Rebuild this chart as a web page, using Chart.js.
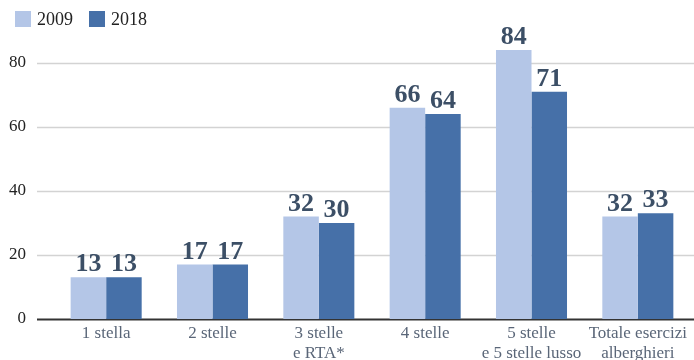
<!DOCTYPE html>
<html>
<head>
<meta charset="utf-8">
<script src="https://cdn.jsdelivr.net/npm/chart.js@4/dist/chart.umd.min.js"></script>
<style>
  html, body { margin: 0; padding: 0; background: #fff; }
  #wrap { width: 694px; height: 360px; position: relative; }
</style>
</head>
<body>
<div id="wrap"><canvas id="barChart"></canvas></div>
<script>
const categories = ['1 stella', '2 stelle', ['3 stelle', 'e RTA*'], '4 stelle', ['5 stelle', 'e 5 stelle lusso'], ['Totale esercizi', 'alberghieri']];
const values2009 = [13, 17, 32, 66, 84, 32];
const values2018 = [13, 17, 30, 64, 71, 33];
const yTicks = [0, 20, 40, 60, 80];

const serif = "'Liberation Serif', 'DejaVu Serif', serif";

// gridlines + base line, drawn from the y scale but stretched left past the plot
const gridPlugin = {
    id: 'gridLines',
    beforeDatasetsDraw(chart) {
        const ctx = chart.ctx;
        const y = chart.scales.y;
        ctx.save();
        yTicks.forEach(v => {
            const py = Math.round(y.getPixelForValue(v)) + 0.5;
            ctx.beginPath();
            ctx.strokeStyle = v === 0 ? '#333333' : '#d3d3d3';
            ctx.lineWidth = v === 0 ? 2 : 1.5;
            ctx.moveTo(37, py);
            ctx.lineTo(chart.width, py);
            ctx.stroke();
        });
        ctx.restore();
    }
};

const labelPlugin = {
    id: 'valueLabels',
    afterDatasetsDraw(chart) {
        const ctx = chart.ctx;
        ctx.save();
        ctx.font = 'bold 26px ' + serif;
        ctx.fillStyle = '#3c4f66';
        ctx.textAlign = 'center';
        ctx.textBaseline = 'alphabetic';
        chart.data.datasets.forEach((ds, i) => {
            chart.getDatasetMeta(i).data.forEach((bar, j) => {
                ctx.fillText(String(ds.data[j]), bar.x, bar.y - 6);
            });
        });
        ctx.restore();
    }
};

const legendPlugin = {
    id: 'topLegend',
    afterDraw(chart) {
        const ctx = chart.ctx;
        ctx.save();
        ctx.font = '18px ' + serif;
        ctx.textBaseline = 'middle';
        let x = 15;
        chart.data.datasets.forEach(ds => {
            ctx.fillStyle = ds.backgroundColor;
            ctx.fillRect(x, 11, 16, 16);
            ctx.fillStyle = '#222222';
            ctx.fillText(ds.label, x + 22, 20);
            x += 22 + ctx.measureText(ds.label).width + 16;
        });
        ctx.restore();
    }
};

const ctx = document.getElementById('barChart').getContext('2d');
const myChart = new Chart(ctx, {
    type: 'bar',
    data: {
        labels: categories,
        datasets: [{
            label: '2009',
            data: values2009,
            backgroundColor: '#b4c6e7',
            borderWidth: 0
        }, {
            label: '2018',
            data: values2018,
            backgroundColor: '#4670a8',
            borderWidth: 0
        }]
    },
    options: {
        responsive: true,
        maintainAspectRatio: false,
        animation: false,
        layout: { padding: { top: 33, right: 3, left: 0, bottom: 0 } },
        categoryPercentage: 0.668,
        barPercentage: 1,
        plugins: {
            legend: { display: false },
            tooltip: { enabled: false }
        },
        scales: {
            x: {
                grid: { display: false, drawTicks: false },
                border: { display: false },
                ticks: {
                    color: '#5a6678',
                    font: { family: serif, size: 17 },
                    padding: 4,
                    maxRotation: 0,
                    autoSkip: false
                },
                afterFit(scale) { scale.height = 41; }
            },
            y: {
                min: 0,
                max: 88,
                grid: { display: false, drawTicks: false },
                border: { display: false },
                afterBuildTicks(scale) { scale.ticks = yTicks.map(v => ({ value: v })); },
                ticks: {
                    color: '#222222',
                    font: { family: serif, size: 17 },
                    padding: 27
                },
                afterFit(scale) { scale.width = 53; }
            }
        }
    },
    plugins: [gridPlugin, labelPlugin, legendPlugin]
});
</script>
</body>
</html>
